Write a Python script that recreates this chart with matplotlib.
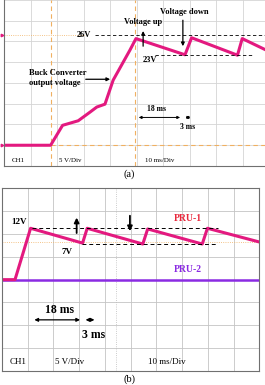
import numpy as np
from matplotlib import pyplot as plt

# ---- data ----
# (a) buck converter output, time in ms, voltage in V
t_a = [0, 17.6, 22.1, 28.0, 32.5, 35.0, 38.1, 41.2, 47.5, 49.8, 68.3, 70.8, 88.1, 89.9, 100.0]
v_a = [0, 0, 4.8, 5.9, 8.0, 9.2, 9.9, 15.7, 22.9, 25.7, 21.8, 25.9, 21.7, 25.7, 22.6]

# (b) PRU-1 / PRU-2 voltages
t_b1 = [0, 5.05, 11.1, 31.3, 33.1, 54.7, 56.6, 77.8, 79.8, 99.6]
v_b1 = [0, 0, 11.25, 8.0, 11.25, 7.8, 11.1, 7.8, 11.25, 8.3]
t_b2 = [0, 100]
v_b2 = [-0.15, -0.15]

pink = '#e3197f'
purple = '#8a2be2'
orange = '#f0b060'
serif = 'Liberation Serif'

fig = plt.figure(figsize=(2.65, 3.85), dpi=100)


def scope_axes(rect, ylim, grid_c, hide_top_right=False):
    ax = fig.add_axes(rect)
    ax.set_xlim(0, 100)
    ax.set_ylim(*ylim)
    ax.set_xticks(np.arange(0, 101, 10))
    ax.set_yticks(np.arange(ylim[0], ylim[1] + 0.1, 5))
    ax.tick_params(length=0, labelbottom=False, labelleft=False)
    ax.grid(True, color=grid_c, lw=0.6)
    for s in ax.spines.values():
        s.set_color('#707070')
        s.set_linewidth(0.8)
    if hide_top_right:
        ax.spines['top'].set_visible(False)
        ax.spines['right'].set_visible(False)
    return ax


# ---------------- (a) ----------------
ax1 = scope_axes([4 / 265, 1 - 166 / 385, 265 / 265, 166 / 385], (-5, 35), '#d4d4d4', True)
ax1.axhline(0, color=orange, lw=0.8, ls=(0, (4, 3)))
ax1.axvline(17.6, color=orange, lw=0.8, ls=(0, (4, 3)))
ax1.axvline(49.5, color=orange, lw=0.8, ls=(0, (4, 3)))
ax1.plot([0, 30], [26.5, 26.5], color=orange, lw=0.6, ls=':')
ax1.plot(t_a, v_a, color=pink, lw=2.2, solid_joinstyle='round')
ax1.plot([34.3, 98.5], [26.5, 26.5], color='k', lw=0.6, ls=(0, (4, 3)))
ax1.plot([57, 94], [21.7, 21.7], color='k', lw=0.6, ls=(0, (4, 3)))
ax1.plot([-0.6, -0.6], [0, 26.5], ls='', marker='>', ms=1.8, color=pink, clip_on=False)

bold = dict(family=serif, fontweight='bold', fontsize=6, ha='center', va='center')
ax1.text(30.2, 26.5, '26V', **bold)
ax1.text(55.1, 20.5, '23V', **bold)
ax1.text(52.6, 29.6, 'Voltage up', **bold)
ax1.text(67.9, 32.0, 'Voltage down', **bold)
ax1.text(9.4, 17.3, 'Buck Converter', family=serif, fontweight='bold', fontsize=6, ha='left', va='center')
ax1.text(9.4, 14.9, 'output voltage', family=serif, fontweight='bold', fontsize=6, ha='left', va='center')
ax1.annotate('', xy=(52.5, 28.2), xytext=(52.5, 23.2),
             arrowprops=dict(arrowstyle='-|>', color='k', lw=0.9, mutation_scale=5))
ax1.annotate('', xy=(67.5, 23.2), xytext=(67.5, 30.8),
             arrowprops=dict(arrowstyle='-|>', color='k', lw=0.9, mutation_scale=5))
ax1.annotate('', xy=(41.1, 15.9), xytext=(29.8, 15.9),
             arrowprops=dict(arrowstyle='-|>', color='k', lw=0.9, mutation_scale=5))
ax1.annotate('', xy=(49.8, 6.7), xytext=(67.5, 6.7),
             arrowprops=dict(arrowstyle='<|-|>', color='k', lw=0.7, mutation_scale=4))
ax1.annotate('', xy=(67.5, 6.7), xytext=(71.3, 6.7),
             arrowprops=dict(arrowstyle='<|-|>', color='k', lw=0.7, mutation_scale=4))
ax1.text(57.4, 8.8, '18 ms', **dict(bold, fontsize=5.5))
ax1.text(69.4, 4.5, '3 ms', **dict(bold, fontsize=5.5))
reg = dict(family=serif, fontsize=5, ha='center', va='center')
ax1.text(5.3, -3.6, 'CH1', **reg)
ax1.text(24.9, -3.6, '5 V/Div', **reg)
ax1.text(58.9, -3.6, '10 ms/Div', **reg)
fig.text(129 / 265, 1 - 174 / 385, '(a)', family=serif, fontsize=7.5, ha='center', va='center')

# ---------------- (b) ----------------
ax2 = scope_axes([2 / 265, 1 - 371 / 385, 257.4 / 265, 182.7 / 385], (-20, 20), '#c4c4c4')
ax2.axvline(44.3, color='#bbbbbb', lw=0.6, ls=':')
ax2.axhline(8.3, color=orange, lw=0.6, ls=':')
ax2.plot(t_b2, v_b2, color=purple, lw=1.8)
ax2.plot(t_b1, v_b1, color=pink, lw=2.2, solid_joinstyle='round')
ax2.plot([11.5, 83.9], [11.4, 11.4], color='k', lw=0.7, ls=(0, (4, 3)))
ax2.plot([31.0, 83.4], [7.7, 7.7], color='k', lw=0.7, ls=(0, (4, 3)))

bold2 = dict(family=serif, fontweight='bold', ha='center', va='center')
ax2.text(6.5, 12.7, '12V', fontsize=6.5, **bold2)
ax2.text(25.1, 6.1, '7V', fontsize=6.5, **bold2)
ax2.text(72.1, 13.4, 'PRU-1', fontsize=7, color='#e8283c', **bold2)
ax2.text(72.1, 2.2, 'PRU-2', fontsize=7, color=purple, **bold2)
ax2.annotate('', xy=(29.0, 14.2), xytext=(29.0, 9.6),
             arrowprops=dict(arrowstyle='-|>', color='k', lw=1.3, mutation_scale=7))
ax2.annotate('', xy=(49.7, 10.0), xytext=(49.7, 14.6),
             arrowprops=dict(arrowstyle='-|>', color='k', lw=1.3, mutation_scale=7))
ax2.annotate('', xy=(11.5, -8.8), xytext=(31.4, -8.8),
             arrowprops=dict(arrowstyle='<|-|>', color='k', lw=0.9, mutation_scale=5))
ax2.annotate('', xy=(31.4, -8.8), xytext=(37.0, -8.8),
             arrowprops=dict(arrowstyle='<|-|>', color='k', lw=0.9, mutation_scale=5))
ax2.text(22.5, -6.6, '18 ms', fontsize=8.5, **bold2)
ax2.text(35.5, -12.1, '3 ms', fontsize=8.5, **bold2)
reg2 = dict(family=serif, fontsize=6.5, ha='center', va='center')
ax2.text(6.2, -18.1, 'CH1', **reg2)
ax2.text(26.4, -18.1, '5 V/Div', **reg2)
ax2.text(64.1, -18.1, '10 ms/Div', **reg2)
fig.text(129 / 265, 1 - 379.5 / 385, '(b)', family=serif, fontsize=7.5, ha='center', va='center')

fig.savefig('out.png', dpi=100)
